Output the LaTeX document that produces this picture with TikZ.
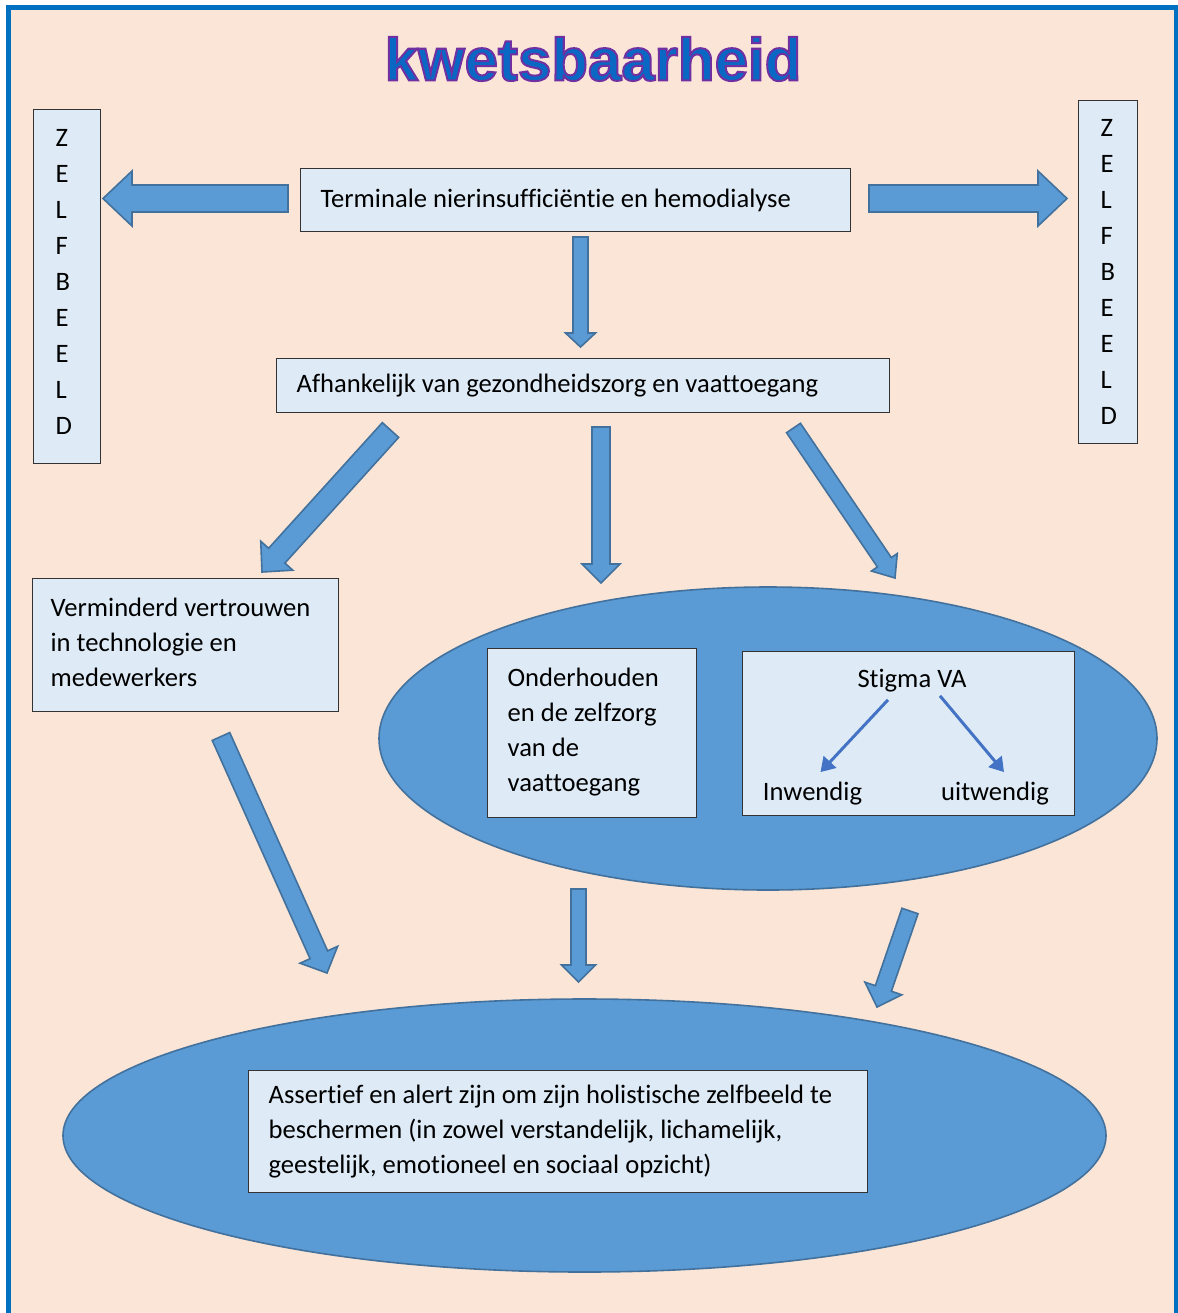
\documentclass[tikz,border=0pt]{standalone}
\usepackage{fontspec}
\setmainfont{Carlito}[Ligatures={NoCommon}]
\newfontfamily\titlefont{Liberation Sans}
\usetikzlibrary{positioning,calc,shapes.geometric,arrows.meta}

\definecolor{peach}{HTML}{FBE5D6}
\definecolor{framecol}{HTML}{0070C0}
\definecolor{boxblue}{HTML}{DEEBF7}
\definecolor{arrowblue}{HTML}{5B9BD5}
\definecolor{arrowedge}{HTML}{41719C}
\definecolor{stigblue}{HTML}{4472C4}
\definecolor{titleblue}{HTML}{0868C4}

\tikzset{
  box/.style={draw=black!80, line width=0.6pt, fill=boxblue, anchor=north west,
    align=flush left, inner xsep=10pt, inner ysep=0pt},
  oval/.style={ellipse, draw=arrowedge, line width=0.8pt, fill=arrowblue, inner sep=0pt},
  blockarr/.style={draw=arrowedge, line width=0.8pt, fill=arrowblue, line join=miter},
  stigarr/.style={draw=stigblue, line width=1.5pt, -{Triangle[length=7pt,width=8.5pt]}},
  lbl/.style={inner sep=0pt}
}

% block arrow: from, to, half shaft, half head, head length
\newcommand{\fatarrow}[5]{%
  \coordinate (hb) at ($(#2)!#5!(#1)$);
  \draw[blockarr] ($(#1)!#3!90:(#2)$) -- ($(hb)!#3!90:(#2)$) -- ($(hb)!#4!90:(#2)$) -- (#2)
    -- ($(hb)!#4!-90:(#2)$) -- ($(hb)!#3!-90:(#2)$) -- ($(#1)!#3!-90:(#2)$) -- cycle;}

% outlined title text (purple stroke round blue letters)
\newcommand{\outlined}[1]{\textcolor{titleblue}{\special{pdf:literal 2 Tr 1.0 w 0.44 0.19 0.63 RG}#1\special{pdf:literal 0 Tr}}}

\begin{document}
\begin{tikzpicture}[x=0.5pt, y=-0.5pt, font=\fontsize{13.3}{17.5}\selectfont]
  \useasboundingbox (0,0) rectangle (1178,1313);
  \fill[white] (0,0) rectangle (1178,1313);
  \fill[peach] (8.5,7.5) rectangle (1176.5,1313);
  \draw[framecol, line width=2.5pt] (8.5,1330) -- (8.5,7.5) -- (1176.5,7.5) -- (1176.5,1330);

  % title
  \node[lbl, font=\titlefont\bfseries\fontsize{30}{36}\selectfont] (ttl) at (593,59)
    {\outlined{kwetsbaarheid}};

  % side boxes
  \node[box, inner xsep=11pt, minimum width=33.5pt, minimum height=177pt, text width=11.5pt,
    font=\fontsize{13.3}{18}\selectfont] (zelfL) at (33,109) {Z\\E\\L\\F\\B\\E\\E\\L\\D\\[-13pt]\mbox{}};
  \node[box, inner xsep=11pt, minimum width=29.5pt, minimum height=171.5pt, text width=7.5pt,
    font=\fontsize{13.3}{18}\selectfont] (zelfR) at (1078,100) {Z\\E\\L\\F\\B\\E\\E\\L\\D};

  % main boxes
  \node[box, minimum width=275pt, minimum height=31.5pt, text width=255pt] (term) at (300,168)
    {Terminale nierinsufficiëntie en hemodialyse};
  \node[box, minimum width=306.5pt, minimum height=27pt, text width=286.5pt] (afh) at (276,358)
    {Afhankelijk van gezondheidszorg en vaattoegang};
  \node[box, inner xsep=9pt, minimum width=153pt, minimum height=66.5pt, text width=135pt] (vertr) at (32,578)
    {Verminderd vertrouwen\\in technologie en\\medewerkers\\[-14.5pt]\mbox{}};

  % ovals
  \node[oval, minimum width=389pt, minimum height=151.5pt] (oval1) at (768,738.5) {};
  \node[oval, minimum width=521.5pt, minimum height=136.5pt] (oval2) at (584.5,1135.5) {};

  \node[box, minimum width=104.5pt, minimum height=84.5pt, text width=84.5pt] (onderh) at (487,648)
    {Onderhouden\\en de zelfzorg\\van de\\vaattoegang\\[-14.5pt]\mbox{}};
  \node[box, minimum width=166pt, minimum height=82pt] (stigbox) at (742,651) {};
  \node[lbl] (stig) at (912,681) {Stigma VA};
  \node[lbl] (inw) at (812.5,794) {Inwendig};
  \node[lbl] (uitw) at (995,794) {uitwendig};
  \draw[stigarr] ($(stig.south)+(-24,7)$) -- ($(inw.north)+(8,-10)$);
  \draw[stigarr] ($(stig.south)+(28,3)$) -- ($(uitw.north)+(9,-10)$);

  \node[box, minimum width=309.5pt, minimum height=61pt, text width=289.5pt] (assert) at (248,1070)
    {\mbox{Assertief en alert zijn om zijn holistische zelfbeeld te}\\beschermen (in zowel verstandelijk, lichamelijk,\\geestelijk, emotioneel en sociaal opzicht)};

  % block arrows
  \coordinate (a1s) at (288,198.5);   \coordinate (a1e) at (103,198.5);
  \coordinate (a2s) at (869,198.5);   \coordinate (a2e) at (1067,198.5);
  \coordinate (a3s) at (580.5,237);   \coordinate (a3e) at (580.5,347);
  \coordinate (a4s) at (390.5,430);   \coordinate (a4e) at (262,572);
  \coordinate (a5s) at (601,427);     \coordinate (a5e) at (601,583);
  \coordinate (a6s) at (793.5,428);   \coordinate (a6e) at (895,578);
  \coordinate (a7s) at (221,736.5);   \coordinate (a7e) at (327,973);
  \coordinate (a8s) at (578.5,889);   \coordinate (a8e) at (578.5,982);
  \coordinate (a9s) at (910,911);     \coordinate (a9e) at (877,1007);
  \fatarrow{a1s}{a1e}{6.75pt}{13.75pt}{14.5pt}
  \fatarrow{a2s}{a2e}{6.75pt}{13.75pt}{14.5pt}
  \fatarrow{a3s}{a3e}{3.75pt}{7.5pt}{7pt}
  \fatarrow{a4s}{a4e}{5.5pt}{10.8pt}{11pt}
  \fatarrow{a5s}{a5e}{4.5pt}{9.5pt}{9.5pt}
  \fatarrow{a6s}{a6e}{4.2pt}{7.8pt}{9.5pt}
  \fatarrow{a7s}{a7e}{4.8pt}{10.3pt}{10pt}
  \fatarrow{a8s}{a8e}{3.75pt}{8.5pt}{8.5pt}
  \fatarrow{a9s}{a9e}{4.25pt}{9.75pt}{9.8pt}
\end{tikzpicture}
\end{document}
